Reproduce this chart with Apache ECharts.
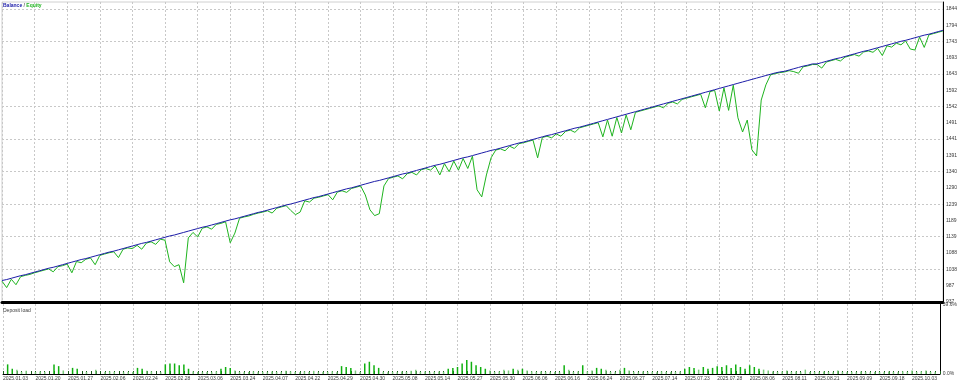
<!DOCTYPE html>
<html><head><meta charset="utf-8">
<script src="https://cdn.jsdelivr.net/npm/echarts@6/dist/echarts.min.js"></script>
<style>html,body{margin:0;padding:0;background:#fff}#c{width:960px;height:383px}</style>
</head><body><div id="c"></div>
<script>
const xDates = ['2025.01.03','2025.01.20','2025.01.27','2025.02.06','2025.02.24','2025.02.28','2025.03.06','2025.03.24','2025.04.07','2025.04.22','2025.04.29','2025.04.30','2025.05.08','2025.05.14','2025.05.27','2025.05.30','2025.06.06','2025.06.16','2025.06.24','2025.06.27','2025.07.14','2025.07.23','2025.07.28','2025.08.06','2025.08.11','2025.08.21','2025.09.09','2025.09.18','2025.10.03'];
const priceTicks = [937,987,1038,1088,1139,1189,1239,1290,1340,1391,1441,1491,1542,1592,1643,1693,1743,1794,1844];
const priceGrid = [937,1038,1139,1239,1340,1441,1542,1643,1743,1844];
const loadTicks = [0, 39.6];
const balance = [
1003,1006,1010,1014,1018,1021,1025,
1029,1033,1037,1041,1044,1048,1052,
1056,1060,1064,1068,1071,1075,1079,
1083,1087,1091,1094,1098,1102,1106,
1110,1114,1118,1121,1125,1129,1133,
1137,1141,1144,1148,1152,1156,1160,
1164,1168,1171,1175,1179,1183,1187,
1191,1194,1198,1202,1206,1210,1214,
1217,1221,1225,1229,1233,1237,1240,
1244,1248,1252,1256,1260,1263,1267,
1271,1275,1279,1283,1287,1290,1294,
1298,1302,1306,1310,1313,1317,1321,
1325,1329,1333,1336,1340,1344,1348,
1352,1356,1360,1363,1367,1371,1375,
1379,1383,1386,1390,1394,1398,1402,
1406,1409,1413,1417,1421,1425,1429,
1432,1436,1440,1444,1448,1452,1455,
1459,1463,1467,1471,1475,1478,1482,
1486,1490,1494,1498,1502,1506,1510,
1514,1518,1522,1526,1530,1534,1538,
1542,1546,1550,1554,1558,1562,1566,
1570,1574,1578,1582,1586,1590,1594,
1598,1602,1606,1610,1614,1618,1622,
1626,1630,1634,1638,1642,1646,1649,
1651,1655,1659,1663,1667,1670,1674,
1674,1678,1682,1686,1690,1693,1697,
1701,1705,1709,1713,1716,1720,1724,
1728,1732,1736,1740,1744,1747,1751,
1755,1759,1763,1766,1770,1774,1778];
const equity = [
1001,981,1007,990,1015,1019,1022,
1027,1031,1035,1039,1030,1046,1049,
1054,1027,1062,1058,1069,1073,1052,
1081,1085,1089,1092,1074,1100,1104,
1102,1112,1100,1119,1123,1115,1131,
1128,1061,1046,1052,996,1135,1152,
1138,1165,1169,1162,1177,1180,1185,
1120,1150,1196,1200,1203,1208,1212,
1215,1219,1212,1227,1231,1235,1220,
1207,1215,1250,1246,1258,1261,1265,
1269,1253,1277,1281,1276,1288,1292,
1296,1268,1222,1204,1210,1296,1319,
1323,1327,1318,1334,1338,1330,1346,
1350,1345,1358,1330,1365,1340,1373,
1345,1381,1350,1388,1284,1262,1330,
1383,1407,1411,1405,1419,1412,1427,
1430,1434,1438,1383,1446,1450,1445,
1457,1450,1465,1469,1462,1476,1480,
1484,1488,1492,1448,1500,1450,1508,
1460,1516,1470,1524,1528,1532,1536,
1540,1544,1538,1552,1556,1550,1564,
1568,1572,1576,1580,1538,1588,1592,
1528,1600,1530,1608,1507,1463,1500,
1408,1389,1562,1609,1640,1644,1647,
1649,1653,1650,1645,1665,1668,1672,
1672,1661,1680,1684,1688,1683,1695,
1699,1703,1698,1711,1714,1710,1722,
1700,1730,1726,1738,1733,1745,1720,
1717,1757,1725,1764,1768,1772,1776];
const depositLoad = [
0,5.5,3,2.5,1.2,1.8,0,
1.2,1.5,1.2,0,5.5,4.5,2,
0,3.5,3,0,1.2,0,2.5,
0,1.2,1.5,1.2,0,1,1.2,
1.2,3.5,3,1.8,1.5,0,1,
5.5,6,6,5,5.5,3,1.5,
1.2,1,1.2,1,1.5,3,4,
3.5,2,1.2,1,1.2,1.5,1,
1.2,1,1.5,1.2,1,1.8,1.5,
1.2,1,1.5,1.2,1.8,1,1.2,
1.2,1.5,1,4.5,4,3.5,2,
1.2,6,7,5,3.5,1.2,1,
1.2,1,1.5,1.2,1.8,2.5,1.2,
1.5,1,1.2,1.5,1.2,3,3.5,
4,6,8,7,5,4,3,
2,1.2,1.5,2.5,2,3,2.5,
3,2,1.5,1.2,1.5,1.2,1,
1.2,1,5,2.5,1.2,1.5,5,
1.5,2,3.5,3,2.5,1.2,1,
2.5,3.5,2,1.2,1,1.5,1.2,
1.2,1,1.5,1.2,1,1.2,1.5,
3,4,3.5,2.5,4,3,3.5,
4.5,4,5,3.5,5.5,4,3,
5,4,3,2.5,2,1.5,1.2,
1.5,2,1.2,1.5,1,2.5,1.2,
1.2,1,1.5,1.2,1,2,1.2,
1,1.2,1,1.5,1.2,1,1.2,
1.2,1,1.5,1.2,1,1.5,1.2,
2,1.2,1.5,2,1.2,1,0];

const LABEL_STEP = 7;
const categories = balance.map((_, i) => (i % LABEL_STEP === 0 && xDates[i / LABEL_STEP]) ? xDates[i / LABEL_STEP] : '');
const FONT = 'Liberation Sans';
const txt = '#3a3a3a';
const dash = {color: '#c8c8c8', type: [2, 2], width: 1};
const gridLine = {show: true, interval: LABEL_STEP - 1, lineStyle: dash};
const P_MIN = 936.5, P_MAX = 1865.7;

const chart = echarts.init(document.getElementById('c'), null, {renderer: 'canvas'});
chart.setOption({
  animation: false,
  backgroundColor: '#ffffff',
  title: [
    {text: '{b|Balance} {s|/} {e|Equity}', left: 3, top: 3, padding: 0, textStyle: {fontFamily: FONT, fontSize: 5, rich: {b: {color: '#1c1ca8', fontSize: 5, fontFamily: FONT}, s: {color: '#666', fontSize: 5, fontFamily: FONT}, e: {color: '#22b422', fontSize: 5, fontFamily: FONT}}}},
    {text: 'Deposit load', left: 3, top: 308, padding: 0, textStyle: {fontFamily: FONT, fontSize: 5, color: txt, fontWeight: 'normal'}}
  ],
  grid: [
    {left: 2, right: 17, top: 2, bottom: 81, show: true, borderColor: '#d0d0d0', borderWidth: 1},
    {left: 2, right: 17, top: 304, bottom: 9}
  ],
  xAxis: [
    {type: 'category', gridIndex: 0, data: categories, boundaryGap: false,
     axisLine: {show: true, lineStyle: {color: '#000', width: 3}}, axisTick: {show: false}, axisLabel: {show: false},
     splitLine: gridLine},
    {type: 'category', gridIndex: 1, data: categories, boundaryGap: false,
     axisLine: {show: true, lineStyle: {color: '#000', width: 1}},
     axisTick: {show: true, interval: 0, inside: true, length: 3, lineStyle: {color: '#1a5c1a', width: 1}},
     axisLabel: {show: true, interval: LABEL_STEP - 1, align: 'left', fontSize: 5, fontFamily: FONT, color: txt, margin: 2},
     splitLine: gridLine}
  ],
  yAxis: [
    {type: 'value', gridIndex: 0, position: 'right', min: P_MIN, max: P_MAX,
     axisLine: {show: true, lineStyle: {color: '#000', width: 1}},
     axisTick: {show: false, customValues: priceTicks},
     axisLabel: {show: true, customValues: priceTicks, fontSize: 5, fontFamily: FONT, color: txt, margin: 3, formatter: v => String(Math.round(v))},
     splitLine: {show: false}},
    {type: 'value', gridIndex: 0, position: 'right', min: P_MIN, max: P_MAX,
     axisLine: {show: false}, axisTick: {show: false, customValues: priceGrid},
     axisLabel: {show: false, customValues: priceGrid},
     splitLine: {show: true, lineStyle: dash}},
    {type: 'value', gridIndex: 1, position: 'right', min: 0, max: 40,
     axisLine: {show: true, lineStyle: {color: '#000', width: 1}},
     axisTick: {show: false, customValues: loadTicks},
     axisLabel: {show: true, customValues: loadTicks, fontSize: 5, fontFamily: FONT, color: txt, margin: 3, formatter: v => v.toFixed(1) + '%'},
     splitLine: {show: false}}
  ],
  series: [
    {name: 'Equity', type: 'line', xAxisIndex: 0, yAxisIndex: 0, data: equity, showSymbol: false, symbol: 'none',
     lineStyle: {color: '#1fb41f', width: 1}, z: 2},
    {name: 'Balance', type: 'line', xAxisIndex: 0, yAxisIndex: 0, data: balance, showSymbol: false, symbol: 'none',
     lineStyle: {color: '#1c1ca8', width: 1}, z: 3},
    {name: 'Deposit load', type: 'bar', xAxisIndex: 1, yAxisIndex: 2, data: depositLoad, barWidth: 1.5,
     itemStyle: {color: p => p.value >= 3 ? '#10b010' : '#7ccc7c'}}
  ]
});
</script></body></html>
